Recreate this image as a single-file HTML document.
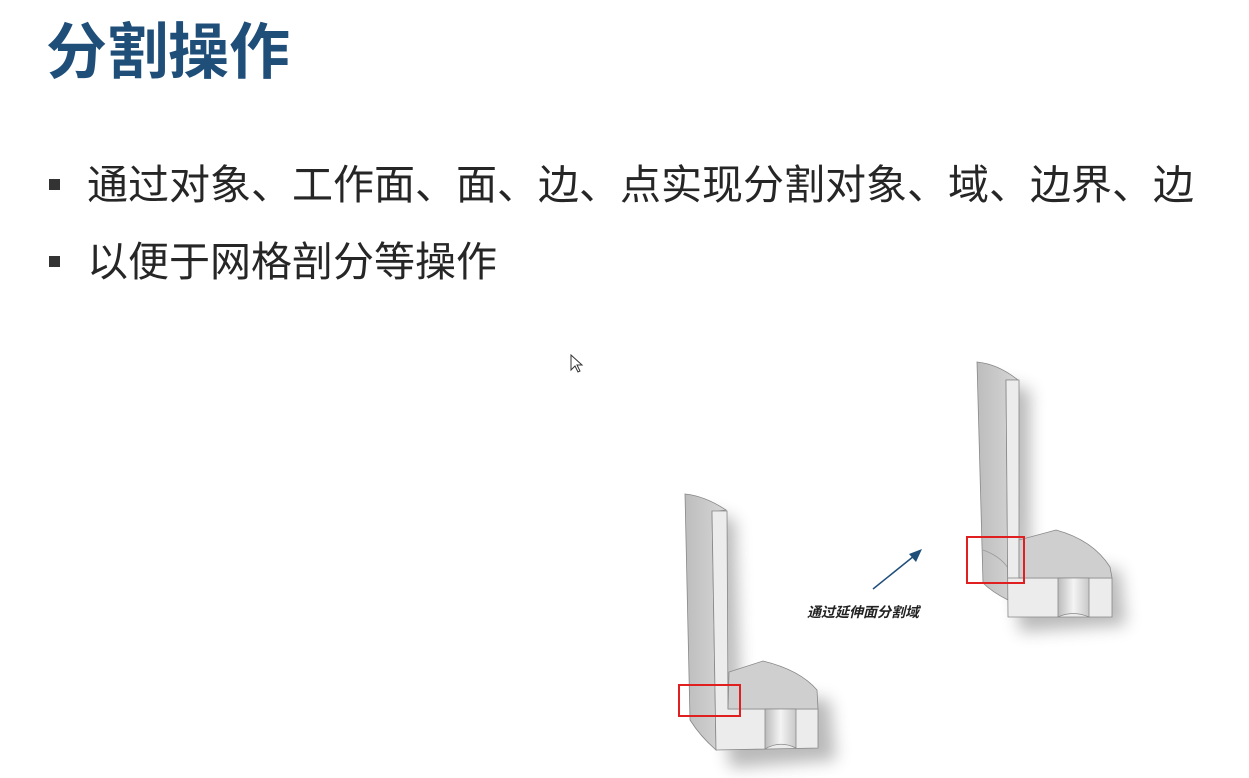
<!DOCTYPE html>
<html><head><meta charset="utf-8"><style>
html,body{margin:0;padding:0;background:#fff;}
body{width:1249px;height:778px;position:relative;overflow:hidden;font-family:"Liberation Sans","Noto Sans CJK SC",sans-serif;}
.t{position:absolute;left:46px;top:12px;font-size:61px;font-weight:bold;color:#1f4e79;line-height:80px;}
.b{position:absolute;left:87px;font-size:41px;color:#262626;line-height:44px;white-space:nowrap;letter-spacing:0px;}
.sq{position:absolute;left:49px;width:11px;height:11px;background:#333;}
</style></head><body>
<div class="t">分割操作</div>
<div class="sq" style="top:179px"></div>
<div class="b" style="top:163px">通过对象、工作面、面、边、点实现分割对象、域、边界、边</div>
<div class="sq" style="top:256px"></div>
<div class="b" style="top:240px">以便于网格剖分等操作</div>
<svg width="1249" height="778" style="position:absolute;left:0;top:0">
<defs>
<filter id="sh" x="-30%" y="-30%" width="160%" height="160%"><feGaussianBlur stdDeviation="8"/></filter>
<linearGradient id="cf" x1="0" x2="1"><stop offset="0" stop-color="#bdbdbd"/><stop offset="1" stop-color="#d6d6d6"/></linearGradient>
<linearGradient id="hole" x1="0" x2="1"><stop offset="0" stop-color="#bbb"/><stop offset="0.5" stop-color="#f4f4f4"/><stop offset="1" stop-color="#c8c8c8"/></linearGradient>
</defs>
<g>
<path d="M700 510 L735 520 L740 690 L830 700 L836 760 L730 768 Z" fill="#666" opacity="0.45" filter="url(#sh)"/>
<path d="M685 494 Q705 496 726 510 L712 512 L716 750 Q700 736 690 720 Z" fill="url(#cf)" stroke="#888" stroke-width="0.8"/>
<path d="M712 511 L727 511 L728 709 L818 709 L818 748 L716 750 Z" fill="#ececec" stroke="#888" stroke-width="0.8"/>
<path d="M728 709 L729 672 L763 661 Q800 670 817 690 L818 709 Z" fill="#cfcfcf" stroke="#888" stroke-width="0.8"/>
<path d="M765 709 L796 709 L796 748 Q780 740 765 749 Z" fill="url(#hole)" stroke="#888" stroke-width="0.8"/>
<rect x="679" y="685" width="61" height="31" fill="none" stroke="#e02020" stroke-width="2"/>
</g>
<g>
<path d="M990 380 L1030 390 L1030 560 L1120 570 L1126 625 L1020 632 Z" fill="#666" opacity="0.45" filter="url(#sh)"/>
<path d="M977 362 Q998 364 1018 380 L1006 380 L1008 600 Q992 592 983 583 Z" fill="url(#cf)" stroke="#888" stroke-width="0.8"/>
<path d="M983 550 Q1000 556 1008 568" fill="none" stroke="#999" stroke-width="0.8"/>
<path d="M1006 380 L1019 380 L1019 578 L1112 578 L1112 617 L1008 617 Z" fill="#ececec" stroke="#888" stroke-width="0.8"/>
<path d="M1019 578 L1019 540 L1056 530 Q1093 540 1110 567 L1112 578 Z" fill="#cfcfcf" stroke="#888" stroke-width="0.8"/>
<path d="M1058 578 L1089 578 L1089 617 Q1073 610 1058 617 Z" fill="url(#hole)" stroke="#888" stroke-width="0.8"/>
<line x1="1008" y1="578" x2="1024" y2="578" stroke="#888" stroke-width="0.8"/>
<rect x="967" y="537" width="57" height="46" fill="none" stroke="#e02020" stroke-width="2"/>
</g>
<line x1="873" y1="589" x2="914" y2="556" stroke="#1f4e79" stroke-width="1.5"/>
<polygon points="922,549 909,554 916,562" fill="#1f4e79"/>
<text x="807" y="617" font-size="14" font-style="italic" font-weight="bold" fill="#222" font-family="Liberation Sans, Noto Sans CJK SC, sans-serif">通过延伸面分割域</text>
<path d="M571 355 L571 370 L575 366 L578 372 L580 371 L577 365 L582 365 Z" fill="#fff" stroke="#333" stroke-width="1"/>
</svg>
</body></html>
